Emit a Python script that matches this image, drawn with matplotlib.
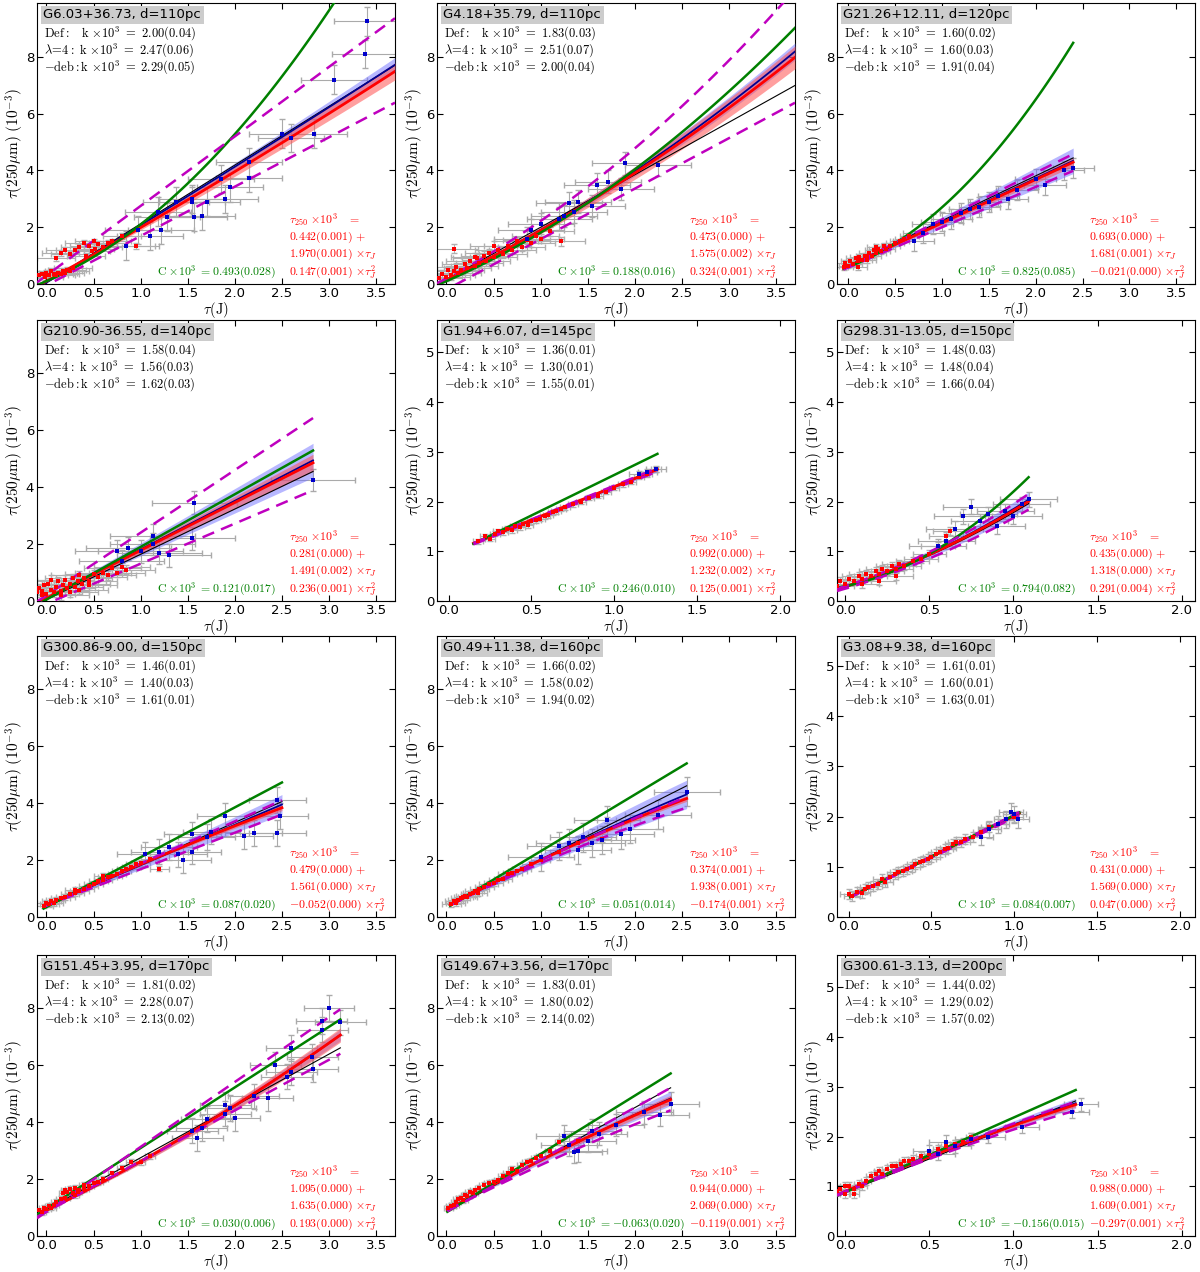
import numpy as np
import matplotlib
matplotlib.use('Agg')
import matplotlib.pyplot as plt

plt.rcParams['mathtext.fontset'] = 'cm'
plt.rcParams['font.family'] = 'DejaVu Sans'

# ---- panel labels and fit results ----
names = ['G6.03+36.73, d=110pc', 'G4.18+35.79, d=110pc', 'G21.26+12.11, d=120pc',
         'G210.90-36.55, d=140pc', 'G1.94+6.07, d=145pc', 'G298.31-13.05, d=150pc',
         'G300.86-9.00, d=150pc', 'G0.49+11.38, d=160pc', 'G3.08+9.38, d=160pc',
         'G151.45+3.95, d=170pc', 'G149.67+3.56, d=170pc', 'G300.61-3.13, d=200pc']
k_def = ['2.00(0.04)', '1.83(0.03)', '1.60(0.02)', '1.58(0.04)', '1.36(0.01)', '1.48(0.03)',
         '1.46(0.01)', '1.66(0.02)', '1.61(0.01)', '1.81(0.02)', '1.83(0.01)', '1.44(0.02)']
k_lam = ['2.47(0.06)', '2.51(0.07)', '1.60(0.03)', '1.56(0.03)', '1.30(0.01)', '1.48(0.04)',
         '1.40(0.03)', '1.58(0.02)', '1.60(0.01)', '2.28(0.07)', '1.80(0.02)', '1.29(0.02)']
k_deb = ['2.29(0.05)', '2.00(0.04)', '1.91(0.04)', '1.62(0.03)', '1.55(0.01)', '1.66(0.04)',
         '1.61(0.01)', '1.94(0.02)', '1.63(0.01)', '2.13(0.02)', '2.14(0.02)', '1.57(0.02)']
q_a = ['0.442(0.001)', '0.473(0.000)', '0.693(0.000)', '0.281(0.000)', '0.992(0.000)', '0.435(0.000)',
       '0.479(0.000)', '0.374(0.001)', '0.431(0.000)', '1.095(0.000)', '0.944(0.000)', '0.988(0.000)']
q_b = ['1.970(0.001)', '1.575(0.002)', '1.681(0.001)', '1.491(0.002)', '1.232(0.002)', '1.318(0.000)',
       '1.561(0.000)', '1.938(0.001)', '1.569(0.000)', '1.635(0.000)', '2.069(0.000)', '1.609(0.001)']
q_c = ['0.147(0.001)', '0.324(0.001)', '-0.021(0.000)', '0.236(0.001)', '0.125(0.001)', '0.291(0.004)',
       '-0.052(0.000)', '-0.174(0.001)', '0.047(0.000)', '0.193(0.000)', '-0.119(0.001)', '-0.297(0.001)']
c_val = ['0.493(0.028)', '0.188(0.016)', '0.825(0.085)', '0.121(0.017)', '0.246(0.010)', '0.794(0.082)',
         '0.087(0.020)', '0.051(0.014)', '0.084(0.007)', '0.030(0.006)', '-0.063(0.020)', '-0.156(0.015)']

# ---- axis ranges ----
xlims = [(-0.1, 3.7), (-0.1, 3.7), (-0.12, 3.7), (-0.1, 3.7), (-0.07, 2.09), (-0.05, 2.08),
         (-0.1, 3.7), (-0.1, 3.7), (-0.07, 2.09), (-0.1, 3.7), (-0.1, 3.7), (-0.05, 2.08)]
ymaxs = [9.9, 9.9, 9.9, 9.87, 5.65, 5.65, 9.87, 9.87, 5.6, 9.87, 9.87, 5.65]

# ---- model curves (a, b, c) for a + b x + c x^2, drawn between x0 and x1 ----
fit_x0 = [-0.1, -0.1, -0.05, -0.1, 0.15, -0.05, -0.03, 0.04, 0.01, -0.1, 0.01, -0.05]
fit_x1 = [3.7, 3.7, 2.4, 2.83, 1.26, 1.09, 2.5, 2.55, 1.03, 3.12, 2.38, 1.37]
black_c = [(0.05, 2.07, 0.0), (0.15, 1.85, 0.0), (0.65, 1.58, 0.0), (0.05, 1.59, 0.0),
           (0.95, 1.34, 0.0), (0.28, 1.05, 0.45), (0.38, 1.47, 0.0), (0.35, 1.67, 0.0),
           (0.38, 1.64, 0.0), (0.93, 1.82, 0.0), (0.85, 1.83, 0.0), (0.88, 1.34, 0.0)]
red_c = [(0.1, 1.85, 0.04), (0.15, 1.6, 0.14), (0.62, 1.53, 0.0), (0.1, 1.68, 0.0),
         (0.96, 1.34, 0.0), (0.29, 1.05, 0.48), (0.4, 1.5, -0.05), (0.35, 1.75, -0.1),
         (0.39, 1.62, 0.01), (0.9, 1.6, 0.12), (0.9, 1.85, -0.09), (0.9, 1.45, -0.13)]
blue_c = [(0.05, 2.0, 0.02), (0.15, 1.6, 0.155), (0.62, 1.55, 0.0), (0.1, 1.71, 0.0),
          (0.95, 1.35, 0.0), (0.29, 1.06, 0.5), (0.4, 1.42, 0.0), (0.35, 1.73, -0.07),
          (0.38, 1.64, 0.0), (0.9, 1.6, 0.12), (0.88, 1.85, -0.08), (0.9, 1.47, -0.13)]
green_c = [(0.1, 1.41, 0.59), (0.1, 1.45, 0.26), (0.6, 1.25, 0.85), (0.05, 1.85, 0.0),
           (0.905, 1.63, 0.0), (0.3, 0.7, 1.2), (0.35, 1.75, 0.0), (0.32, 1.99, 0.0),
           (0.38, 1.65, 0.0), (0.96, 2.13, 0.0), (0.83, 2.05, 0.0), (0.88, 1.5, 0.0)]
mag_hi_c = [(0.3, 2.45, 0.0), (0.2, 1.75, 0.27), (0.62, 1.65, 0.0), (0.2, 2.2, 0.0),
            (0.96, 1.36, 0.0), (0.3, 1.1, 0.55), (0.4, 1.48, 0.0), (0.35, 1.72, -0.08),
            (0.38, 1.66, 0.0), (0.85, 2.28, 0.0), (0.85, 1.83, 0.0), (0.9, 1.48, -0.12)]
mag_lo_c = [(-0.05, 1.74, 0.0), (-0.2, 1.78, 0.0), (0.58, 1.42, 0.0), (-0.1, 1.41, 0.0),
            (0.94, 1.32, 0.0), (0.25, 1.0, 0.42), (0.4, 1.28, 0.0), (0.35, 1.65, -0.11),
            (0.38, 1.6, 0.0), (0.85, 1.78, 0.0), (0.88, 1.7, -0.09), (0.88, 1.42, -0.16)]
red_band = [0.3, 0.4, 0.15, 0.3, 0.03, 0.05, 0.1, 0.1, 0.03, 0.25, 0.15, 0.05]
blue_band = [0.25, 0.3, 0.45, 0.6, 0.05, 0.15, 0.35, 0.5, 0.04, 0.2, 0.25, 0.1]

# ---- low-extinction points (red) ----
red_x = [
    [-0.08, -0.05, -0.02, 0.0, 0.03, 0.05, 0.08, 0.1, 0.12, 0.15, 0.18, 0.2, 0.22, 0.25, 0.28,
     0.1, 0.15, 0.2, 0.25, 0.3, 0.35, 0.4, 0.45, 0.5, 0.55, 0.42, 0.48, 0.52, 0.6, 0.65, 0.7, 0.8, 0.95],
    [-0.08, -0.05, 0.0, 0.02, 0.05, 0.08, 0.1, 0.12, 0.15, 0.2, 0.22, 0.25, 0.3, 0.32, 0.35, 0.4, 0.42,
     0.45, 0.5, 0.55, 0.6, 0.65, 0.7, 0.75, 0.8, 0.85, 0.9, 0.95, 1.0, 1.1, 1.22, 0.08, 0.3, 0.5],
    [-0.05, -0.03, 0.0, 0.02, 0.05, 0.08, 0.1, 0.12, 0.15, 0.18, 0.2, 0.22, 0.25, 0.28, 0.3, 0.32,
     0.35, 0.38, 0.4, 0.45, 0.5, 0.55, 0.6, 0.65, 0.1, 0.2, 0.3],
    [-0.1, -0.08, -0.05, -0.03, 0.0, 0.02, 0.05, 0.08, 0.1, 0.12, 0.15, 0.18, 0.2, 0.22, 0.25, 0.28,
     0.3, 0.33, 0.35, 0.38, 0.4, 0.45, 0.5, 0.55, 0.6, 0.65, 0.7, 0.75, 0.8, 0.85, -0.05, 0.05, 0.15,
     0.25, 0.35, 0.45],
    [0.18, 0.22, 0.25, 0.28, 0.3, 0.33, 0.35, 0.38, 0.4, 0.43, 0.45, 0.48, 0.5, 0.53, 0.55, 0.58,
     0.6, 0.63, 0.65, 0.68, 0.7, 0.75, 0.8, 0.85, 0.9, 0.95, 1.0, 1.05, 1.1, 1.15, 1.2, 1.25],
    [-0.05, -0.03, 0.0, 0.02, 0.05, 0.08, 0.1, 0.12, 0.15, 0.18, 0.2, 0.22, 0.25, 0.28, 0.3, 0.32,
     0.35, 0.4, 0.45, 0.5, 0.55, 0.6, 0.62, 0.1, 0.2, 0.3],
    [-0.03, 0.0, 0.03, 0.05, 0.08, 0.1, 0.15, 0.2, 0.25, 0.3, 0.35, 0.4, 0.45, 0.5, 0.55, 0.6, 0.65,
     0.7, 0.75, 0.8, 0.85, 0.9, 0.95, 1.0, 1.1, 1.2, 0.3, 0.6],
    [0.05, 0.08, 0.1, 0.12, 0.15, 0.18, 0.2, 0.22, 0.25, 0.28, 0.3, 0.33, 0.35, 0.4, 0.45, 0.5, 0.55,
     0.6, 0.65, 0.7, 0.75, 0.8, 0.9, 1.0, 1.2, 1.4, 1.65, 1.7],
    [0.0, 0.02, 0.05, 0.08, 0.1, 0.12, 0.15, 0.18, 0.2, 0.22, 0.25, 0.28, 0.3, 0.33, 0.35, 0.38, 0.4,
     0.43, 0.45, 0.48, 0.5, 0.53, 0.55, 0.58, 0.6, 0.63, 0.65, 0.68, 0.7, 0.75, 0.8, 0.85, 0.9, 0.95, 1.0],
    [-0.08, -0.05, -0.03, 0.0, 0.03, 0.05, 0.08, 0.1, 0.15, 0.18, 0.2, 0.22, 0.25, 0.28, 0.3, 0.33,
     0.35, 0.4, 0.45, 0.5, 0.55, 0.6, 0.7, 0.8, 0.9, 0.2, 0.3, 0.4, 1.0, 1.1],
    [0.02, 0.05, 0.08, 0.1, 0.12, 0.15, 0.18, 0.2, 0.22, 0.25, 0.28, 0.3, 0.35, 0.4, 0.45, 0.5, 0.55,
     0.6, 0.65, 0.7, 0.75, 0.8, 0.85, 0.9, 0.95, 1.0, 1.1, 1.2, 1.25, 1.4],
    [-0.05, -0.03, 0.0, 0.02, 0.05, 0.08, 0.1, 0.12, 0.15, 0.18, 0.2, 0.22, 0.25, 0.28, 0.3, 0.33,
     0.35, 0.38, 0.4, 0.45, 0.5, 0.55, 0.6, 0.65, 0.7, 0.75, 0.0, 0.05],
]
red_y = [
    [0.3, 0.35, 0.25, 0.4, 0.3, 0.45, 0.35, 0.3, 0.4, 0.35, 0.45, 0.4, 0.5, 0.45, 0.55,
     0.9, 1.1, 1.2, 1.05, 1.2, 1.3, 1.45, 1.35, 1.5, 1.4, 1.0, 1.15, 1.25, 1.3, 1.45, 1.5, 1.7, 1.35],
    [0.2, 0.35, 0.25, 0.5, 0.3, 0.45, 0.6, 0.4, 0.5, 0.7, 0.55, 0.8, 0.65, 0.9, 0.75, 1.0, 0.8,
     1.1, 0.95, 1.2, 1.05, 1.35, 1.2, 1.5, 1.3, 1.55, 1.45, 1.7, 1.6, 1.85, 1.5, 1.25, 0.95, 1.35],
    [0.6, 0.75, 0.65, 0.8, 0.7, 0.9, 0.8, 0.95, 0.85, 1.0, 0.95, 1.1, 1.0, 1.2, 1.1, 1.25,
     1.15, 1.35, 1.25, 1.35, 1.45, 1.5, 1.6, 1.7, 0.6, 0.85, 1.3],
    [0.3, 0.45, 0.35, 0.55, 0.25, 0.6, 0.4, 0.3, 0.5, 0.7, 0.35, 0.55, 0.75, 0.45, 0.6, 0.8,
     0.5, 0.7, 0.9, 0.6, 0.8, 0.7, 0.95, 0.85, 1.0, 0.9, 1.15, 1.0, 1.2, 1.1, 0.2, 0.75, 0.2,
     0.3, 0.4, 0.55],
    [1.2, 1.3, 1.25, 1.35, 1.4, 1.38, 1.45, 1.42, 1.5, 1.48, 1.55, 1.52, 1.6, 1.62, 1.65, 1.7,
     1.72, 1.78, 1.8, 1.85, 1.88, 1.95, 2.0, 2.08, 2.12, 2.2, 2.28, 2.35, 2.4, 2.5, 2.55, 2.65],
    [0.3, 0.4, 0.35, 0.45, 0.4, 0.5, 0.45, 0.55, 0.5, 0.6, 0.55, 0.65, 0.6, 0.7, 0.65, 0.75,
     0.7, 0.8, 0.85, 0.95, 1.1, 1.3, 1.4, 0.35, 0.4, 0.5],
    [0.4, 0.5, 0.45, 0.55, 0.5, 0.6, 0.65, 0.7, 0.8, 0.85, 0.9, 1.0, 1.1, 1.15, 1.25, 1.3, 1.4,
     1.45, 1.5, 1.6, 1.7, 1.75, 1.85, 1.9, 2.05, 1.7, 0.95, 1.45],
    [0.45, 0.55, 0.5, 0.6, 0.65, 0.7, 0.75, 0.7, 0.8, 0.85, 0.9, 0.85, 1.0, 1.05, 1.15, 1.2, 1.3,
     1.35, 1.5, 1.55, 1.6, 1.7, 1.85, 2.0, 2.3, 2.6, 2.75, 3.4],
    [0.45, 0.42, 0.5, 0.48, 0.55, 0.6, 0.62, 0.65, 0.75, 0.7, 0.8, 0.85, 0.9, 0.92, 0.95, 1.0, 1.05,
     1.1, 1.12, 1.15, 1.2, 1.25, 1.3, 1.35, 1.38, 1.45, 1.5, 1.5, 1.55, 1.6, 1.7, 1.8, 1.85, 1.95, 2.0],
    [0.9, 0.85, 1.0, 0.95, 1.05, 1.0, 1.1, 1.2, 1.3, 1.5, 1.6, 1.55, 1.65, 1.5, 1.7, 1.55,
     1.6, 1.65, 1.75, 1.85, 1.9, 2.0, 2.2, 2.4, 2.6, 1.35, 1.45, 1.8, 2.6, 2.8],
    [1.0, 1.05, 1.1, 1.2, 1.3, 1.35, 1.25, 1.45, 1.4, 1.55, 1.5, 1.6, 1.7, 1.8, 1.85, 1.9, 1.95,
     2.1, 2.2, 2.35, 2.3, 2.5, 2.6, 2.65, 2.75, 2.8, 3.0, 3.3, 3.5, 3.35],
    [0.9, 0.95, 0.85, 1.0, 0.95, 1.05, 1.0, 1.1, 1.2, 1.25, 1.3, 1.25, 1.35, 1.4, 1.4, 1.45,
     1.5, 1.5, 1.55, 1.6, 1.65, 1.75, 1.8, 1.85, 1.9, 2.0, 1.0, 0.85],
]
red_xerr = [0.2, 0.25, 0.1, 0.3, 0.03, 0.1, 0.1, 0.1, 0.05, 0.05, 0.05, 0.03]
red_yerr = [0.1, 0.15, 0.1, 0.15, 0.05, 0.08, 0.1, 0.1, 0.1, 0.1, 0.1, 0.08]

# ---- high-extinction points (blue) ----
blue_x = [
    [3.40, 3.38, 3.05, 2.50, 2.60, 2.84, 2.15, 2.15, 1.85, 1.95, 1.90, 1.55, 1.55, 1.70, 1.57,
     1.65, 1.28, 1.22, 1.10, 0.97, 1.38, 1.18, 0.85],
    [1.9, 2.25, 1.72, 1.6, 1.85, 1.4, 1.35, 1.3, 1.2, 1.0, 0.85, 0.9, 1.25, 1.55],
    [2.4, 2.3, 2.0, 1.8, 1.6, 1.5, 1.4, 1.2, 1.1, 1.0, 0.9, 0.8, 0.7, 1.3, 1.7, 2.1],
    [2.83, 1.57, 1.55, 1.13, 1.13, 0.87, 1.3, 1.2, 0.8, 1.0, 0.75],
    [1.2, 1.25, 1.15],
    [1.09, 1.05, 0.95, 0.9, 0.75, 0.7, 0.8, 0.6, 0.65, 0.55, 1.0, 0.85],
    [2.45, 2.48, 2.45, 2.1, 2.2, 1.9, 1.75, 1.55, 1.55, 1.45, 1.4, 1.3, 1.2, 1.05, 1.7],
    [2.55, 2.25, 1.95, 1.85, 1.65, 1.7, 1.4, 1.45, 1.2, 1.0, 1.55, 1.3],
    [0.95, 1.0, 0.9, 1.02, 0.85, 0.98, 0.8],
    [3.0, 2.92, 3.12, 2.93, 2.6, 2.43, 2.55, 2.82, 2.83, 2.35, 2.2, 2.6, 1.95, 1.9, 2.0, 1.7,
     1.6, 1.65, 1.55, 1.9],
    [2.38, 2.27, 2.1, 1.8, 1.62, 1.5, 1.35, 1.25, 1.4, 1.55, 1.3],
    [1.35, 1.4, 1.05, 0.85, 0.75, 0.65, 0.6, 0.55, 0.5],
]
blue_y = [
    [9.25, 8.1, 7.2, 5.3, 5.15, 5.3, 4.3, 3.75, 3.7, 3.4, 3.0, 3.0, 2.9, 2.9, 2.35,
     2.4, 2.35, 1.9, 1.7, 1.9, 2.9, 2.55, 1.35],
    [4.25, 4.2, 3.6, 3.5, 3.35, 2.9, 2.55, 2.85, 2.3, 2.1, 1.6, 1.9, 2.4, 2.75],
    [4.1, 4.0, 3.7, 3.3, 3.1, 2.9, 2.7, 2.5, 2.3, 2.2, 2.1, 1.8, 1.5, 2.65, 3.0, 3.5],
    [4.25, 3.45, 2.2, 2.3, 2.0, 1.85, 1.6, 1.7, 1.4, 1.75, 1.75],
    [2.6, 2.65, 2.55],
    [2.05, 1.95, 1.8, 1.5, 1.9, 1.7, 1.6, 1.2, 1.45, 1.1, 1.7, 1.75],
    [4.1, 3.55, 2.95, 2.85, 2.95, 3.55, 3.0, 2.9, 2.3, 2.0, 2.2, 2.45, 2.3, 2.2, 2.8],
    [4.4, 3.6, 3.1, 2.9, 2.7, 3.4, 2.35, 2.8, 2.5, 2.1, 2.6, 2.6],
    [1.95, 2.05, 1.85, 1.95, 1.75, 2.1, 1.6],
    [8.0, 7.55, 7.5, 7.25, 6.6, 6.0, 5.6, 6.3, 5.85, 4.85, 4.9, 5.75, 4.5, 4.3, 4.15, 4.1,
     3.45, 3.8, 3.7, 4.6],
    [4.65, 4.25, 4.35, 3.9, 3.6, 3.35, 2.95, 3.5, 3.0, 3.7, 3.2],
    [2.5, 2.65, 2.2, 2.0, 1.95, 1.8, 1.9, 1.65, 1.7],
]
blue_xerr = [0.35, 0.35, 0.22, 0.45, 0.06, 0.17, 0.3, 0.35, 0.07, 0.27, 0.3, 0.1]
blue_yerr = [0.5, 0.4, 0.35, 0.4, 0.06, 0.15, 0.45, 0.5, 0.17, 0.45, 0.4, 0.13]


def quad(c, x):
    return c[0] + c[1] * x + c[2] * x ** 2


def signed(s):
    # keep a leading minus as an ordinary symbol (no binary spacing)
    return '{-}' + s[1:] if s.startswith('-') else s


fig = plt.figure(figsize=(12, 12.72), dpi=100)
W, H = 1200.0, 1272.0
col_left = [37, 437, 837]
row_top = [3, 320, 636, 955]
ax_w, ax_h = 358, 281

for i in range(12):
    r, c = divmod(i, 3)
    ax = fig.add_axes([col_left[c] / W, 1 - (row_top[r] + ax_h) / H, ax_w / W, ax_h / H])

    # data with error bars
    ax.errorbar(blue_x[i], blue_y[i], xerr=blue_xerr[i], yerr=blue_yerr[i], fmt='none',
                ecolor='#aaaaaa', elinewidth=0.8, capsize=2, zorder=1)
    ax.errorbar(red_x[i], red_y[i], xerr=red_xerr[i], yerr=red_yerr[i], fmt='none',
                ecolor='#b0b0b0', elinewidth=0.8, capsize=2, zorder=1)

    # fitted relations
    x = np.linspace(fit_x0[i], fit_x1[i], 100)
    grow = (x - fit_x0[i]) / (fit_x1[i] - fit_x0[i])
    yr = quad(red_c[i], x)
    yb = quad(blue_c[i], x)
    ax.fill_between(x, yb - blue_band[i] * grow, yb + blue_band[i] * grow,
                    color='#7070ff', alpha=0.5, lw=0, zorder=3)
    ax.fill_between(x, yr - red_band[i] * grow, yr + red_band[i] * grow,
                    color='#ff5050', alpha=0.55, lw=0, zorder=3)
    ax.plot(x, quad(black_c[i], x), '-', color='black', lw=0.8, zorder=4)
    ax.plot(x, yb, '-', color='#000090', lw=1.3, zorder=4)
    ax.plot(x, yr, '-', color='red', lw=2.0, zorder=5)
    ax.plot(x, quad(green_c[i], x), '-', color='green', lw=1.8, zorder=6)
    ax.plot(x, quad(mag_hi_c[i], x), '--', color='#bf00bf', lw=1.8, dashes=(5, 3), zorder=6)
    ax.plot(x, quad(mag_lo_c[i], x), '--', color='#bf00bf', lw=1.8, dashes=(5, 3), zorder=6)

    # points on top of the fits
    ax.plot(red_x[i], red_y[i], 's', color='red', ms=2.6, mew=0, zorder=7)
    ax.plot(blue_x[i], blue_y[i], 's', color='#0000cc', ms=2.4, mew=0, zorder=7)

    ax.set_xlim(xlims[i])
    ax.set_ylim(0, ymaxs[i])
    if xlims[i][1] > 3:
        ax.set_xticks(np.arange(0, 3.6, 0.5))
    else:
        ax.set_xticks(np.arange(0, 2.1, 0.5))
    if ymaxs[i] > 6:
        ax.set_yticks([0, 2, 4, 6, 8])
    else:
        ax.set_yticks([0, 1, 2, 3, 4, 5])
    ax.xaxis.set_major_formatter(matplotlib.ticker.FormatStrFormatter('%.1f'))
    ax.tick_params(direction='in', top=True, right=True, length=4, labelsize=9.5, pad=2)
    ax.set_xlabel(r'$\tau(\mathrm{J})$', fontsize=10.5, labelpad=0)
    ax.set_ylabel(r'$\tau(250\mu\mathrm{m})\ (10^{-3})$', fontsize=11, labelpad=0)

    # annotations
    ax.text(0.018, 0.958, names[i], transform=ax.transAxes, fontsize=9.5, va='center', ha='left',
            bbox=dict(facecolor='#cccccc', edgecolor='none', pad=1.8), zorder=10)
    ax.text(0.02, 0.893, r'$\mathrm{Def:}\ \ \ \mathrm{k}\ {\times}10^3\ =\ %s$' % k_def[i],
            transform=ax.transAxes, fontsize=9, va='center', zorder=10)
    ax.text(0.02, 0.833, r'$\lambda\!=\!4:\ \mathrm{k}\ {\times}10^3\ =\ %s$' % k_lam[i],
            transform=ax.transAxes, fontsize=9, va='center', zorder=10)
    ax.text(0.02, 0.772, r'${-}\mathrm{deb}:\mathrm{k}\ {\times}10^3\ =\ %s$' % k_deb[i],
            transform=ax.transAxes, fontsize=9, va='center', zorder=10)
    ax.text(0.705, 0.228, r'$\tau_{250}\ {\times}10^3\ \ \ =$', transform=ax.transAxes,
            fontsize=8.5, color='red', va='center', zorder=10)
    ax.text(0.705, 0.166, r'$%s\ {+}$' % signed(q_a[i]), transform=ax.transAxes,
            fontsize=8.5, color='red', va='center', zorder=10)
    ax.text(0.705, 0.104, r'$%s\ {\times}\tau_J$' % signed(q_b[i]), transform=ax.transAxes,
            fontsize=8.5, color='red', va='center', zorder=10)
    ax.text(0.705, 0.04, r'$%s\ {\times}\tau_J^2$' % signed(q_c[i]), transform=ax.transAxes,
            fontsize=8.5, color='red', va='center', zorder=10)
    ax.text(0.335, 0.04, r'$\mathrm{C}\ {\times}10^3\ {=}%s$' % signed(c_val[i]),
            transform=ax.transAxes, fontsize=8.5, color='green', va='center', zorder=10)

fig.savefig('out.png', dpi=100, facecolor='white')
